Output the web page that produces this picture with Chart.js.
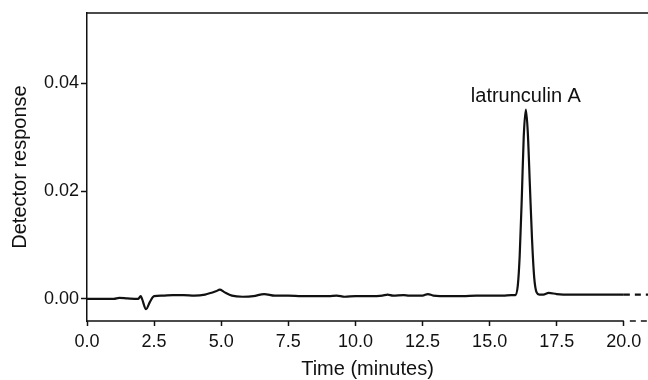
<!DOCTYPE html>
<html>
<head>
<meta charset="utf-8">
<script src="https://cdn.jsdelivr.net/npm/chart.js@4/dist/chart.umd.min.js"></script>
<style>
  html, body { margin: 0; padding: 0; background: #fff; }
  canvas { display: block; }
</style>
</head>
<body>
<canvas id="chart" width="648" height="380"></canvas>
<script>
// Хроматограмма: время (мин) и отклик детектора
const timeMinutes = [
  0, 0.5, 1.0, 1.2, 1.5, 1.9, 2.0, 2.05, 2.2, 2.35, 2.5, 2.8, 3.2, 3.6, 4.0, 4.4,
  4.8, 4.95, 5.1, 5.4, 5.8, 6.2, 6.6, 7.0, 7.5, 8.0, 8.5, 9.0, 9.3, 9.6, 10.0,
  10.5, 11.0, 11.2, 11.4, 11.8, 12.0, 12.5, 12.7, 12.9, 13.5, 14.0, 14.5, 15.0,
  15.5, 15.8, 15.95, 16.05, 16.12, 16.2, 16.27, 16.35, 16.42, 16.5, 16.58, 16.66,
  16.75, 16.85, 17.0, 17.2, 17.5, 18.0, 18.5, 19.0, 19.5, 20.0, 20.9
]
const detectorResponse = [
  0.0000, 0.0000, 0.0000, 0.0002, 0.0001, 0.0000, 0.0005, 0.0000, -0.0019, -0.0005,
  0.0005, 0.0006, 0.0007, 0.0007, 0.0006, 0.0008, 0.0014, 0.0017, 0.0013, 0.0006,
  0.0004, 0.0005, 0.0009, 0.0006, 0.0006, 0.0005, 0.0005, 0.0005, 0.0006, 0.0004,
  0.0005, 0.0005, 0.0006, 0.0008, 0.0006, 0.0007, 0.0006, 0.0006, 0.0009, 0.0006,
  0.0005, 0.0005, 0.0006, 0.0006, 0.0006, 0.0007, 0.0007, 0.0025, 0.0080, 0.0190,
  0.0300, 0.0351, 0.0310, 0.0210, 0.0110, 0.0040, 0.0012, 0.0008, 0.0008, 0.0011,
  0.0009, 0.0008, 0.0008, 0.0008, 0.0008, 0.0008, 0.0008
]
const xTicks = [0, 2.5, 5, 7.5, 10, 12.5, 15, 17.5, 20]
const yTicks = [0, 0.02, 0.04]
const peakLabel = "latrunculin A"
const peakTime = 16.35

const X_MIN = 0, X_MAX = 20.9, X_SOLID_END = 20
const Y_MIN = -0.0041, Y_MAX = 0.053
const INK = "#111"
const FONT = "'Liberation Sans', Arial, sans-serif"

// Рамка: верхняя линия и нижняя ось (пунктир после 20 мин), подпись пика
const framePlugin = {
  id: "frame",
  afterDraw(chart) {
    const { ctx, chartArea: a, scales } = chart
    const xs = scales.x.getPixelForValue(X_SOLID_END)
    ctx.save()
    ctx.strokeStyle = INK
    ctx.lineWidth = 1.5
    ctx.beginPath()
    ctx.moveTo(a.left, a.top)
    ctx.lineTo(a.right, a.top)
    ctx.moveTo(a.left, a.bottom)
    ctx.lineTo(xs, a.bottom)
    ctx.stroke()
    ctx.setLineDash([6, 5])
    ctx.beginPath()
    ctx.moveTo(xs + 6, a.bottom)
    ctx.lineTo(a.right, a.bottom)
    ctx.stroke()
    ctx.setLineDash([])

    const i = timeMinutes.indexOf(peakTime)
    const px = scales.x.getPixelForValue(peakTime)
    const py = scales.y.getPixelForValue(detectorResponse[i])
    ctx.fillStyle = INK
    ctx.font = "20px " + FONT
    ctx.textAlign = "center"
    ctx.textBaseline = "alphabetic"
    ctx.fillText(peakLabel, px, py - 8)
    ctx.restore()
  }
}

new Chart(document.getElementById("chart"), {
  type: "line",
  data: {
    datasets: [{
      data: timeMinutes.map((t, i) => ({ x: t, y: detectorResponse[i] })),
      borderColor: INK,
      borderWidth: 2.2,
      pointRadius: 0,
      cubicInterpolationMode: "monotone",
      segment: {
        borderDash: ctx => ctx.p0.parsed.x >= X_SOLID_END ? [6, 5] : undefined
      }
    }]
  },
  options: {
    responsive: false,
    animation: false,
    layout: { padding: { top: 13, right: 0, left: 0, bottom: 0 } },
    plugins: { legend: { display: false }, tooltip: { enabled: false } },
    scales: {
      x: {
        type: "linear",
        min: X_MIN,
        max: X_MAX,
        afterBuildTicks: s => { s.ticks = xTicks.map(v => ({ value: v })) },
        afterFit: s => { s.height = 59 },
        border: { display: false },
        grid: { drawOnChartArea: false, tickLength: 5, color: INK, tickWidth: 1.5 },
        ticks: {
          color: INK,
          padding: 5,
          maxRotation: 0,
          autoSkip: false,
          font: { family: FONT, size: 18 },
          callback: v => v.toFixed(1)
        },
        title: {
          display: true,
          text: "Time (minutes)",
          color: INK,
          padding: { top: 0, bottom: -1 },
          font: { family: FONT, size: 20 }
        }
      },
      y: {
        min: Y_MIN,
        max: Y_MAX,
        afterBuildTicks: s => { s.ticks = yTicks.map(v => ({ value: v })) },
        afterFit: s => { s.width = 87 },
        border: { display: true, color: INK, width: 1.5 },
        grid: { drawOnChartArea: false, tickLength: 6, color: INK, tickWidth: 1.5 },
        ticks: {
          color: INK,
          padding: 2,
          autoSkip: false,
          font: { family: FONT, size: 18 },
          callback: v => v.toFixed(2)
        },
        title: {
          display: true,
          text: "Detector response",
          color: INK,
          padding: { top: 8, bottom: 0 },
          font: { family: FONT, size: 20 }
        }
      }
    }
  },
  plugins: [framePlugin]
})
</script>
</body>
</html>
